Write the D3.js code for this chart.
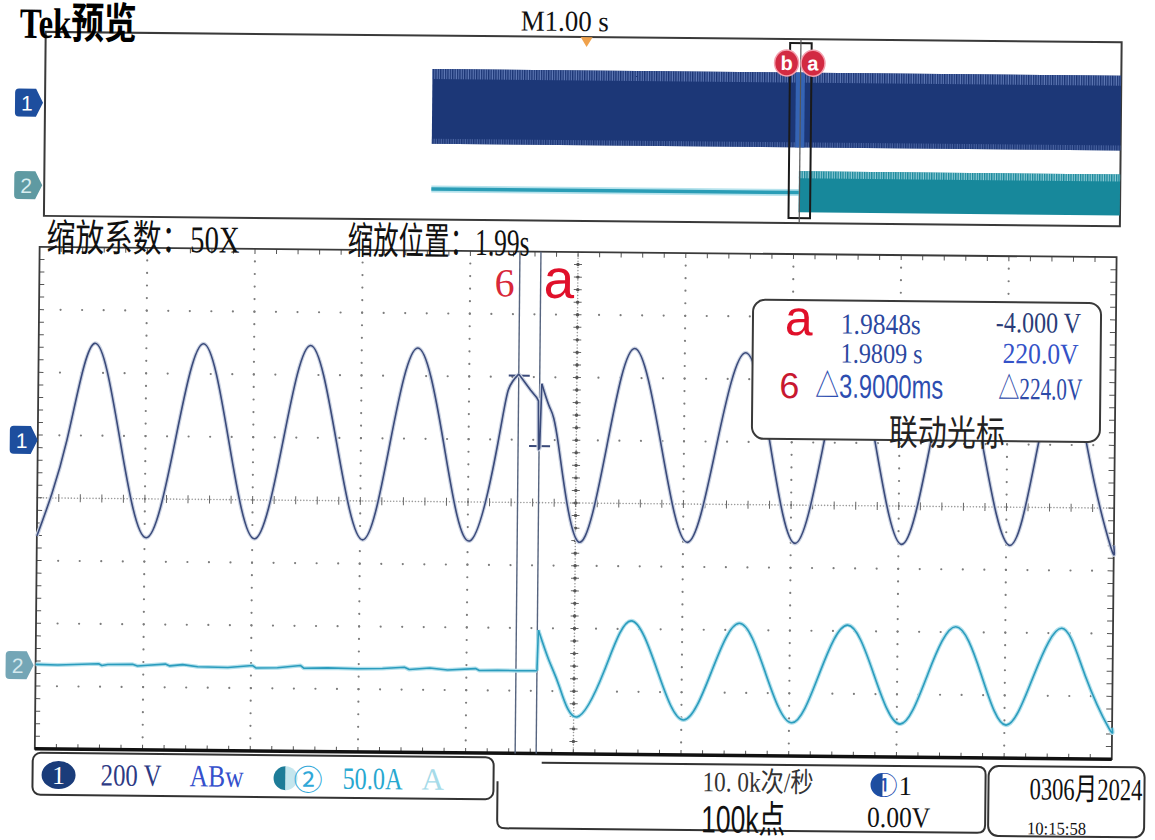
<!DOCTYPE html>
<meta charset="utf-8">
<style>
body { margin: 0; background: #fff; }
.serif { font-family: 'Liberation Serif', 'Noto Sans CJK SC', serif; }
.sans { font-family: 'Liberation Sans', 'Noto Sans CJK SC', sans-serif; }
.cjk { font-family: 'Liberation Serif', 'Noto Sans CJK SC', sans-serif; }
</style>
<body>
<script src="https://cdn.jsdelivr.net/npm/d3@7/dist/d3.min.js"></script>
<script>

// ---- 数据 (从截图读取) ----
// 主窗口: 20 ms/格, 10 格
var timeDomain = [1.8917, 2.0917];
var unitsPerDiv = [200, 50];        // ch1 V/格, ch2 A/格
var chPos = [0.92, -2.67];          // 通道零点位置 (格, 相对中心)

// ch1 电压 (s, V)
var ch1T = [1.8917, 1.8971, 1.9021, 1.9070, 1.9120, 1.9172, 1.9223, 1.9272, 1.9321, 1.9372,
            1.9422, 1.9472, 1.9522, 1.9571, 1.9621, 1.9671, 1.9721, 1.9771, 1.9790, 1.9809,
            1.9820, 1.9831, 1.9843, 1.9846, 1.9847, 1.9849, 1.9852, 1.9867, 1.9884, 1.9923,
            1.9974, 2.0024, 2.0075, 2.0125, 2.0177, 2.0230, 2.0278, 2.0325, 2.0375, 2.0425,
            2.0474, 2.0523, 2.0573, 2.0623, 2.0673, 2.0724, 2.0773, 2.0823, 2.0867, 2.0911, 2.0917];
var ch1V = [-306, 0, 310, 0, -308, 0, 312, 0, -308, 0,
            310, 0, -308, 0, 305, 0, -308, 0, 175, 225,
            200, 175, 150, 140, -15, -10, 195, 120, 0, -308,
            0, 310, 0, -306, 0, 300, 0, -306, 0, 298,
            0, -306, 0, 298, 0, -306, 0, 296, 0, -306, -303];

// ch2 电流 (s, A)
var ch2T = [1.8917, 1.8958, 1.9034, 1.9040, 1.9051, 1.9097, 1.9106, 1.9125, 1.9158, 1.9166,
            1.9190, 1.9218, 1.9274, 1.9320, 1.9326, 1.9366, 1.9409, 1.9415, 1.9459, 1.9515,
            1.9561, 1.9602, 1.9611, 1.9649, 1.9682, 1.9734, 1.9741, 1.9775, 1.9812, 1.9848,
            1.9850, 1.9870, 1.9890, 1.9923, 1.9973, 2.0022, 2.0072, 2.0121, 2.0172, 2.0223,
            2.0272, 2.0322, 2.0373, 2.0424, 2.0473, 2.0523, 2.0574, 2.0625, 2.0673, 2.0720,
            2.0771, 2.0822, 2.0866, 2.0911, 2.0917];
var ch2A = [0.8, 0.5, 1.8, 0.4, 1.2, 1.6, 0.3, 0.9, 2.0, 0.6,
            1.7, 0.1, -0.2, 1.5, -0.4, 0.0, 1.9, -0.2, 0.2, -0.3,
            0.1, 1.3, -0.5, 0.9, -0.6, 0.8, -0.7, -0.4, -0.6, -0.5,
            32, 8, -13, -37, 0, 40, 0, -38.6, 0, 38.9,
            0, -40, 0, 38.3, 0, -40.2, 0, 37.8, 0, -40.2,
            0, 37.4, 0, -41.8, -41.5];

// 光标 b, a
var cursorNames = ["b", "a"];
var cursorT = [1.9809, 1.9848];
var cursorV = [220.0, -4.0];
var readTime = ["1.9848s", "1.9809 s", "△3.9000ms"];
var readVolt = ["-4.000 V", "220.0V", "△224.0V"];

// 预览窗口: 1 s/格
var previewDomain = [-5, 5];
var prevCh1 = [[-1.43, -325, 325], [4.97, -325, 325]];
var prevCh2Flat = [[-1.43, 0], [1.9848, 0]];
var prevCh2Band = [[1.9848, -43, 46], [4.97, -43, 46]];

// ---- 画布 ----
var svg = d3.select("body").append("svg")
    .attr("width", 1155)
    .attr("height", 840);

svg.append("rect").attr("width", 1155).attr("height", 840).attr("fill", "#fff");

var defs = svg.append("defs");
var p1 = defs.append("pattern").attr("id", "stripe1")
    .attr("patternUnits", "userSpaceOnUse").attr("width", 2.4).attr("height", 20);
p1.append("rect").attr("width", 2.4).attr("height", 20).attr("fill", "#5e78b4");
p1.append("rect").attr("width", 1.3).attr("height", 20).attr("fill", "#1b3575");
var p2 = defs.append("pattern").attr("id", "stripe2")
    .attr("patternUnits", "userSpaceOnUse").attr("width", 2.4).attr("height", 20);
p2.append("rect").attr("width", 2.4).attr("height", 20).attr("fill", "#8fcbd6");
p2.append("rect").attr("width", 1.3).attr("height", 20).attr("fill", "#17879a");

// 整张照片略微倾斜
var root = svg.append("g").attr("transform", "rotate(0.55 577 420)");

// 屏幕字体偏窄: 给定宽度时横向压缩
function txt(g, x, y, s, cls, size, fill, len, weight) {
  var t = g.append("text").attr("class", cls)
    .attr("font-size", size).attr("fill", fill).text(s);
  if (weight) t.attr("font-weight", weight);
  if (len) {
    var w = t.node().getComputedTextLength();
    t.attr("transform", "translate(" + x + "," + y + ") scale(" + (len / w) + ",1)");
  } else {
    t.attr("x", x).attr("y", y);
  }
  return t;
}

function marker(g, x0, yc, fill, label, tcol) {
  g.append("path")
    .attr("d", "M" + (x0 + 4) + "," + (yc - 14) + " h17 l7,14 l-7,14 h-17 q-4,0 -4,-4 v-20 q0,-4 4,-4 z")
    .attr("fill", fill);
  txt(g, x0 + 12, yc + 8, label, "sans", 21, tcol || "#fff").attr("text-anchor", "middle");
}

// ---- 预览窗口 ----
var pv = root.append("g");
var xp = d3.scaleLinear().domain(previewDomain).range([45, 1121]);
var yp1 = d3.scaleLinear().domain([(-4 - chPos[0]) * unitsPerDiv[0], (4 - chPos[0]) * unitsPerDiv[0]]).range([221, 37]);
var yp2 = d3.scaleLinear().domain([(-4 - chPos[1]) * unitsPerDiv[1], (4 - chPos[1]) * unitsPerDiv[1]]).range([221, 37]);

pv.append("rect").attr("x", 42).attr("y", 37).attr("width", 1076).attr("height", 184)
    .attr("fill", "#fff").attr("stroke", "#3a3a3a").attr("stroke-width", 2);

var band1 = d3.area().x(function(d) { return xp(d[0]); })
    .y0(function(d) { return yp1(d[1]); }).y1(function(d) { return yp1(d[2]); });
pv.append("path").attr("d", band1(prevCh1)).attr("fill", "#1c3777");
// 波形包络上下沿的细纹
pv.append("path").attr("d", d3.area().x(function(d) { return xp(d[0]); })
    .y0(function(d) { return yp1(d[2]) + 10; }).y1(function(d) { return yp1(d[2]); })(prevCh1))
    .attr("fill", "url(#stripe1)");
pv.append("path").attr("d", d3.area().x(function(d) { return xp(d[0]); })
    .y0(function(d) { return yp1(d[1]); }).y1(function(d) { return yp1(d[1]) - 5; })(prevCh1))
    .attr("fill", "url(#stripe1)").attr("opacity", 0.7);
pv.append("rect").attr("x", xp(cursorT[1]) - 4).attr("y", yp1(325))
    .attr("width", 9).attr("height", yp1(-325) - yp1(325)).attr("fill", "#3564b4");

var flat2 = d3.line().x(function(d) { return xp(d[0]); }).y(function(d) { return yp2(d[1]); });
pv.append("path").attr("d", flat2(prevCh2Flat)).attr("stroke", "#b5e2ec").attr("stroke-width", 7).attr("fill", "none");
pv.append("path").attr("d", flat2(prevCh2Flat)).attr("stroke", "#2a9db6").attr("stroke-width", 3.5).attr("fill", "none");
var band2 = d3.area().x(function(d) { return xp(d[0]); })
    .y0(function(d) { return yp2(d[1]); }).y1(function(d) { return yp2(d[2]); });
pv.append("path").attr("d", band2(prevCh2Band)).attr("fill", "#17889b");
pv.append("path").attr("d", d3.area().x(function(d) { return xp(d[0]); })
    .y0(function(d) { return yp2(d[2]) + 7; }).y1(function(d) { return yp2(d[2]); })(prevCh2Band))
    .attr("fill", "url(#stripe2)");

// 缩放窗口框
pv.append("rect").attr("x", xp(timeDomain[0])).attr("y", 41)
    .attr("width", xp(timeDomain[1]) - xp(timeDomain[0])).attr("height", 175)
    .attr("fill", "none").attr("stroke", "#1a1a1a").attr("stroke-width", 2);
pv.append("line").attr("x1", xp((timeDomain[0] + timeDomain[1]) / 2)).attr("x2", xp((timeDomain[0] + timeDomain[1]) / 2))
    .attr("y1", 37).attr("y2", 221).attr("stroke", "#555").attr("stroke-width", 1.2);

// 光标标记 b / a
cursorNames.forEach(function(n, i) {
  var cx = xp(cursorT[i]) + (i === 0 ? -13 : 13);
  pv.append("ellipse").attr("cx", cx).attr("cy", 61).attr("rx", 12).attr("ry", 13)
    .attr("fill", "#d22a42").attr("stroke", "#f3a0ae").attr("stroke-width", 1.5);
  txt(pv, cx, 68, n, "sans", 20, "#fff", null, "bold").attr("text-anchor", "middle");
});

// 触发标记
pv.append("path").attr("d", "M" + (xp(0) - 6) + ",37 h12 l-6,10 z").attr("fill", "#f0a24c");

marker(pv, 12, yp1(0), "#1d4e9e", "1");
marker(pv, 12, yp2(0), "#5f9aa2", "2", "#d8eef0");

txt(root, 16, 43, "Tek预览", "serif", 43, "#000", 117, "bold");
txt(root, 517, 31, "M1.00 s", "serif", 29, "#111", 88);

// ---- 主窗口 ----
var L = 38, R = 1115, T = 252, B = 754;
var x = d3.scaleLinear().domain(timeDomain).range([L, R]);
var gx = d3.scaleLinear().domain([0, 10]).range([L, R]);
var gy = d3.scaleLinear().domain([-4, 4]).range([B, T]);
var y1 = d3.scaleLinear().domain([(-4 - chPos[0]) * unitsPerDiv[0], (4 - chPos[0]) * unitsPerDiv[0]]).range([B, T]);
var y2 = d3.scaleLinear().domain([(-4 - chPos[1]) * unitsPerDiv[1], (4 - chPos[1]) * unitsPerDiv[1]]).range([B, T]);

var grid = root.append("g");
var minorY = d3.range(1, 40).map(function(j) { return -4 + j / 5; });
var minorX = d3.range(1, 50).map(function(j) { return j / 5; });

// 主格点线
d3.range(1, 10).filter(function(i) { return i !== 5; }).forEach(function(i) {
  grid.selectAll(null).data(minorY).enter().append("circle")
    .attr("cx", gx(i)).attr("cy", function(d) { return gy(d); }).attr("r", 1.1).attr("fill", "#7c7c7c");
});
d3.range(-3, 4).filter(function(j) { return j !== 0; }).forEach(function(j) {
  grid.selectAll(null).data(minorX).enter().append("circle")
    .attr("cx", function(d) { return gx(d); }).attr("cy", gy(j)).attr("r", 1.1).attr("fill", "#7c7c7c");
});

// 中心十字
grid.selectAll(null).data(d3.range(T, B, 3.1)).enter().append("circle")
  .attr("cx", gx(5)).attr("cy", function(d) { return d; }).attr("r", 0.8).attr("fill", "#9a9a9a");
grid.selectAll(null).data(d3.range(L, R, 3.1)).enter().append("circle")
  .attr("cx", function(d) { return d; }).attr("cy", gy(0)).attr("r", 0.8).attr("fill", "#9a9a9a");
grid.selectAll(null).data(minorY).enter().append("line")
  .attr("x1", gx(5) - 4).attr("x2", gx(5) + 4)
  .attr("y1", function(d) { return gy(d); }).attr("y2", function(d) { return gy(d); })
  .attr("stroke", "#666").attr("stroke-width", 1);
grid.selectAll(null).data(minorY).enter().append("circle")
  .attr("cx", gx(5)).attr("cy", function(d) { return gy(d); }).attr("r", 1.7).attr("fill", "#555");
grid.selectAll(null).data(minorX).enter().append("line")
  .attr("y1", gy(0) - 4).attr("y2", gy(0) + 4)
  .attr("x1", function(d) { return gx(d); }).attr("x2", function(d) { return gx(d); })
  .attr("stroke", "#666").attr("stroke-width", 1);

// 边框刻度
grid.selectAll(null).data(minorY).enter().append("line")
  .attr("x1", L).attr("x2", L + 5)
  .attr("y1", function(d) { return gy(d); }).attr("y2", function(d) { return gy(d); })
  .attr("stroke", "#555").attr("stroke-width", 1);
grid.selectAll(null).data(minorY).enter().append("line")
  .attr("x1", R - 6).attr("x2", R)
  .attr("y1", function(d) { return gy(d); }).attr("y2", function(d) { return gy(d); })
  .attr("stroke", "#555").attr("stroke-width", 1);
grid.selectAll(null).data(minorX).enter().append("line")
  .attr("y1", T).attr("y2", T + 5)
  .attr("x1", function(d) { return gx(d); }).attr("x2", function(d) { return gx(d); })
  .attr("stroke", "#555").attr("stroke-width", 1);
grid.selectAll(null).data(minorX).enter().append("line")
  .attr("y1", B - 5).attr("y2", B)
  .attr("x1", function(d) { return gx(d); }).attr("x2", function(d) { return gx(d); })
  .attr("stroke", "#555").attr("stroke-width", 1);

grid.append("rect").attr("x", L).attr("y", T).attr("width", R - L).attr("height", B - T)
  .attr("fill", "none").attr("stroke", "#3a3a3a").attr("stroke-width", 1.8);
grid.append("line").attr("x1", L).attr("x2", R).attr("y1", B).attr("y2", B)
  .attr("stroke", "#111").attr("stroke-width", 3.5);

// 光标竖线
var cur = root.append("g");
cursorT.forEach(function(t, i) {
  cur.append("line").attr("x1", x(t)).attr("x2", x(t)).attr("y1", T).attr("y2", B)
    .attr("stroke", "#56647f").attr("stroke-width", 1.4);
});

// 波形: 正弦段用自然样条, 光标处的跳变段用折线
function trace(tArr, vArr, yScale, segs, halo, color) {
  var g = root.append("g");
  segs.forEach(function(s) {
    var idx = d3.range(s[0], s[1] + 1);
    var ln = d3.line().x(function(i) { return x(tArr[i]); }).y(function(i) { return yScale(vArr[i]); }).curve(s[2]);
    g.append("path").attr("d", ln(idx)).attr("fill", "none")
      .attr("stroke", halo).attr("stroke-width", 4).attr("stroke-linejoin", "round");
  });
  segs.forEach(function(s) {
    var idx = d3.range(s[0], s[1] + 1);
    var ln = d3.line().x(function(i) { return x(tArr[i]); }).y(function(i) { return yScale(vArr[i]); }).curve(s[2]);
    g.append("path").attr("d", ln(idx)).attr("fill", "none")
      .attr("stroke", color).attr("stroke-width", 1.6).attr("stroke-linejoin", "round");
  });
}

trace(ch2T, ch2A, y2, [[0, 29, d3.curveLinear], [29, 30, d3.curveLinear], [30, ch2T.length - 1, d3.curveNatural]],
      "#b3e0ec", "#2a9cbd");
trace(ch1T, ch1V, y1, [[0, 19, d3.curveNatural], [19, 26, d3.curveLinear], [26, ch1T.length - 1, d3.curveNatural]],
      "#cdd4e3", "#3a4a7a");

// 光标电平标记
cursorT.forEach(function(t, i) {
  cur.append("line").attr("x1", x(t) - 10).attr("x2", x(t) + 11)
    .attr("y1", y1(cursorV[i])).attr("y2", y1(cursorV[i]))
    .attr("stroke", "#3a4a7a").attr("stroke-width", 2);
});

txt(root, x(cursorT[0]) - 25, 297, "6", "serif", 40, "#d8283a");
txt(root, x(cursorT[1]) + 3, 298, "a", "sans", 55, "#e0102a");

marker(root, 10, y1(0), "#1d4e9e", "1");
marker(root, 8, y2(0), "#74a6b6", "2", "#d5e9ee");

txt(root, 45, 256, "缩放系数：50X", "cjk", 38, "#111", 193);
txt(root, 346, 256, "缩放位置：1.99s", "cjk", 38, "#111", 182);

// 光标读数框
var box = root.append("g");
box.append("rect").attr("x", 752).attr("y", 298).attr("width", 348).attr("height", 139).attr("rx", 12)
  .attr("fill", "#fff").attr("stroke", "#3a3a3a").attr("stroke-width", 2);
txt(box, 784, 333, "a", "sans", 50, "#e0102a");
txt(box, 779, 396, "6", "sans", 36, "#c81830");
txt(box, 840, 331, readTime[0], "serif", 29, "#2c48a0", 80);
txt(box, 840, 360, readTime[1], "serif", 28, "#2c48a0", 82);
txt(box, 815, 395, readTime[2], "sans", 33, "#2d4db0", 128);
txt(box, 995, 328, readVolt[0], "serif", 29, "#2a3c78", 85);
txt(box, 1002, 359, readVolt[1], "serif", 29, "#3452c8", 76);
txt(box, 998, 395, readVolt[2], "serif", 31, "#2d4aa8", 84);
txt(box, 889, 442, "联动光标", "cjk", 36, "#222", 116);

// ---- 底部状态栏 ----
var bar = root.append("g");
bar.append("rect").attr("x", 36).attr("y", 758).attr("width", 461).attr("height", 42).attr("rx", 8)
  .attr("fill", "#fff").attr("stroke", "#333").attr("stroke-width", 2);
bar.append("path")
  .attr("d", "M501,782 V821 q0,8 8,8 H981 q8,0 8,-8 V771 q0,-8 -8,-8 H545")
  .attr("fill", "none").attr("stroke", "#333").attr("stroke-width", 2);
bar.append("rect").attr("x", 992).attr("y", 762).attr("width", 156).attr("height", 70).attr("rx", 10)
  .attr("fill", "none").attr("stroke", "#333").attr("stroke-width", 2);

bar.append("ellipse").attr("cx", 62).attr("cy", 780).attr("rx", 17).attr("ry", 14).attr("fill", "#1a3c7a");
txt(bar, 62, 789, "1", "serif", 26, "#fff").attr("text-anchor", "middle");
txt(bar, 104, 790, unitsPerDiv[0] + " V", "serif", 31, "#2d3a84", 61);
txt(bar, 193, 790, "ABw", "serif", 31, "#3550cc", 54);
bar.append("path").attr("d", "M289,769 a12,12 0 0,0 0,24 z").attr("fill", "#1d7c98");
bar.append("path").attr("d", "M289,769 a12,12 0 0,1 0,24 z").attr("fill", "#c4e6ee");
txt(bar, 297, 793, "②", "sans", 29, "#30a8d8");
txt(bar, 346, 791, unitsPerDiv[1].toFixed(1) + "A", "serif", 31, "#28a8d0", 60);
txt(bar, 425, 791, "A", "serif", 31, "#a6dbe9");

txt(bar, 706, 790, "10. 0k次/秒", "serif", 28, "#333", 111);
txt(bar, 705, 831, "100k点", "sans", 38, "#111", 84);
bar.append("path").attr("d", "M886,770 a12,12 0 0,0 0,24 z").attr("fill", "#1d4e9e");
txt(bar, 875, 792, "①", "sans", 26, "#1f4fb0");
txt(bar, 902, 792, "1", "serif", 27, "#111");
txt(bar, 871, 824, "0.00V", "serif", 29, "#111", 63);

txt(bar, 1033, 795, "0306月2024", "serif", 31, "#111", 113);
txt(bar, 1031, 830, "10:15:58", "serif", 18, "#111", 59);

</script>
</body>
